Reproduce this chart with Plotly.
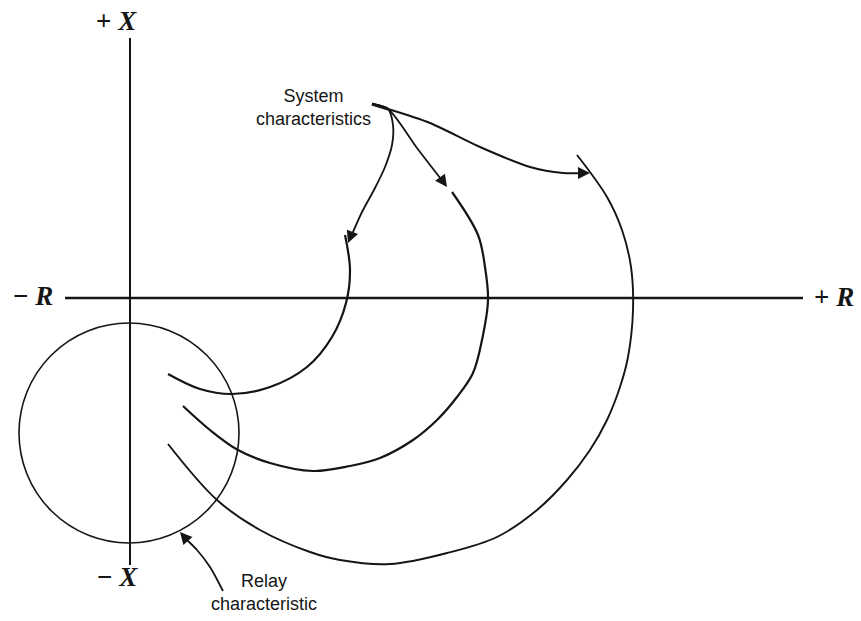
import plotly.graph_objects as go

# ---- data (R to the right, X upward; origin where the axes cross) ----
R_AXIS = [-65, 673]          # extent of the R axis
X_AXIS = [260, -267]         # extent of the X axis

RELAY_CENTER_R = -1
RELAY_CENTER_X = -135
RELAY_RADIUS = 110

SYS1_R = [38, 70, 102, 140, 177, 202, 216, 220, 215]
SYS1_X = [-76, -91, -96, -89, -69, -39, -5, 28, 63]

SYS2_R = [53, 80, 108, 140, 183, 220, 250, 283, 307, 327, 343, 352, 358, 355, 348, 322]
SYS2_X = [-108, -132, -152, -165, -173, -168, -160, -142, -122, -99, -75, -42, -2, 31, 63, 106]

SYS3_R = [38, 87, 130, 180, 210, 260, 317, 367, 407, 437, 460, 477, 490, 498, 503, 501, 492, 477, 447]
SYS3_X = [-146, -202, -232, -254, -262, -266, -255, -239, -212, -182, -152, -122, -89, -59, -12, 31, 68, 101, 143]

# leader curves from the "System characteristics" label
LEAD_A_R = [242, 258, 263, 262, 255, 245, 232, 220]
LEAD_A_X = [194, 189, 173, 153, 131, 110, 86, 59]
LEAD_B_R = [242, 258, 287, 314]
LEAD_B_X = [194, 189, 150, 115]
LEAD_C_R = [258, 300, 350, 400, 433, 455]
LEAD_C_X = [189, 175, 151, 131, 125, 125]
# leader from the "Relay characteristic" label
LEAD_R_R = [93, 80, 67, 57]
LEAD_R_X = [-293, -269, -252, -242]

# arrow tips (tip, tail of head)
ARROWS = [
    ((218, 55), (222, 65)),
    ((317, 111), (312, 118)),
    ((460, 125), (450, 125)),
    ((50, -234), (57, -242)),
]

INK = "#151515"

fig = go.Figure()

def line(xs, ys, w, smooth=1.0):
    fig.add_trace(go.Scatter(x=xs, y=ys, mode="lines",
                             line=dict(color=INK, width=w, shape="spline", smoothing=smooth),
                             hoverinfo="skip", showlegend=False))

# axes
fig.add_trace(go.Scatter(x=R_AXIS, y=[0, 0], mode="lines",
                         line=dict(color=INK, width=2.6), hoverinfo="skip", showlegend=False))
fig.add_trace(go.Scatter(x=[0, 0], y=X_AXIS, mode="lines",
                         line=dict(color=INK, width=2), hoverinfo="skip", showlegend=False))

# system characteristics
line(SYS1_R, SYS1_X, 2.2)
line(SYS2_R, SYS2_X, 2.2)
line(SYS3_R, SYS3_X, 1.9)

# leaders
line(LEAD_A_R, LEAD_A_X, 1.8, 0.8)
line(LEAD_B_R, LEAD_B_X, 1.8, 0.8)
line(LEAD_C_R, LEAD_C_X, 2.0, 0.8)
line(LEAD_R_R, LEAD_R_X, 1.8, 0.8)
# thick start of the leader bundle
fig.add_trace(go.Scatter(x=[242, 258], y=[194, 189], mode="lines",
                         line=dict(color=INK, width=3.2), hoverinfo="skip", showlegend=False))

# relay characteristic circle
fig.add_shape(type="circle", xref="x", yref="y",
              x0=RELAY_CENTER_R - RELAY_RADIUS, x1=RELAY_CENTER_R + RELAY_RADIUS,
              y0=RELAY_CENTER_X - RELAY_RADIUS, y1=RELAY_CENTER_X + RELAY_RADIUS,
              line=dict(color=INK, width=1.6))

for (tx, ty), (bx, by) in ARROWS:
    fig.add_annotation(x=tx, y=ty, ax=bx, ay=by, xref="x", yref="y",
                       axref="x", ayref="y", text="", showarrow=True,
                       arrowhead=2, arrowsize=1.5, arrowwidth=1.6,
                       arrowcolor=INK, standoff=0, startstandoff=0)

serif = dict(family="Liberation Serif", size=27, color=INK)
sans = dict(family="Liberation Sans", size=18, color=INK)

fig.add_annotation(x=-14, y=277, text="<b>+ <i>X</i></b>", showarrow=False, font=serif)
fig.add_annotation(x=-13, y=-279, text="<b>− <i>X</i></b>", showarrow=False, font=serif)
fig.add_annotation(x=-97, y=2, text="<b>− <i>R</i></b>", showarrow=False, font=serif)
fig.add_annotation(x=704, y=1, text="<b>+ <i>R</i></b>", showarrow=False, font=serif)

fig.add_annotation(x=183, y=191, text="System<br>characteristics", showarrow=False,
                   font=sans, align="center")
fig.add_annotation(x=134, y=-294, text="Relay<br>characteristic", showarrow=False,
                   font=sans, align="center")

fig.update_xaxes(range=[-130, 731], visible=False, showgrid=False, zeroline=False)
fig.update_yaxes(range=[-323, 298], visible=False, showgrid=False, zeroline=False)
fig.update_layout(width=861, height=621, autosize=False,
                  margin=dict(l=0, r=0, t=0, b=0),
                  paper_bgcolor="white", plot_bgcolor="white")

fig.write_html("out.html", config={"displayModeBar": False},
               post_script="document.body.style.margin='0';document.body.style.overflow='hidden';")
